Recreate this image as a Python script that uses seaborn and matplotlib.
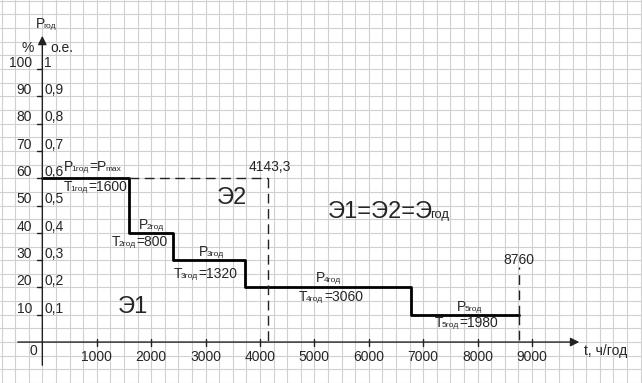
import numpy as np
import pandas as pd
import seaborn as sns
import matplotlib.pyplot as plt
from matplotlib.transforms import offset_copy

# Annual load duration steps
p_levels = [60, 40, 30, 20, 10]          # % of Pmax
durations = [1600, 800, 1320, 3060, 1980]  # h per year
p_names = ['1', '2', '3', '4', '5']
y_ticks_pct = [10, 20, 30, 40, 50, 60, 70, 80, 90, 100]
y_ticks_pu = ['0,1', '0,2', '0,3', '0,4', '0,5', '0,6', '0,7', '0,8', '0,9', '1']
x_ticks = [1000, 2000, 3000, 4000, 5000, 6000, 7000, 8000, 9000]

ends = np.cumsum(durations)
starts = np.concatenate([[0], ends[:-1]])
t_year = ends[-1]
energy = np.sum(np.array(p_levels) * np.array(durations))
t_max = energy / p_levels[0]

df = pd.DataFrame({'t': list(starts) + [t_year],
                   'p': p_levels + [p_levels[-1]]})

sns.set_theme(style='white')
plt.rcParams['font.family'] = 'Liberation Sans'

fig = plt.figure(figsize=(6.42, 3.83), dpi=100)
ax = fig.add_axes([0, 0, 1, 1])
ax.set_xlim(-778, 11024)
ax.set_ylim(-15.0, 125.3)

# graph-paper grid
ax.set_xticks(np.arange(-750, 11250, 250))
ax.set_yticks(np.arange(-15, 130, 5))
ax.tick_params(labelbottom=False, labelleft=False, length=0)
ax.grid(True, color='#d0d0d0', lw=0.8)
ax.set_axisbelow(True)
for s in ax.spines.values():
    s.set_visible(False)

renderer = fig.canvas.get_renderer()


def rich_text(x, y, parts, fs, ha='left', sub_scale=0.6):
    # text with small subscripts, parts = [(string, is_sub), ...]
    widths = []
    for s, sub in parts:
        size = fs * sub_scale if sub else fs
        tmp = ax.text(0, 0, s, fontsize=size)
        widths.append(tmp.get_window_extent(renderer).width)
        tmp.remove()
    # main text runs into the following subscript a bit tighter
    gaps = [(-0.15 * fs if nxt[1] else 0.8) for nxt in parts[1:]] + [0]
    total = sum(widths) + sum(gaps)
    cx = -total / 2 if ha == 'center' else 0
    for (s, sub), w, g in zip(parts, widths, gaps):
        size = fs * sub_scale if sub else fs
        tr = offset_copy(ax.transData, fig=fig, x=cx, y=0, units='dots')
        ax.text(x, y, s, fontsize=size, ha='left', va='baseline', transform=tr)
        cx += w + g


# axes with arrows
ax.annotate('', xy=(0, 113.2), xytext=(0, -9.5),
            arrowprops=dict(arrowstyle='-|>', lw=1, color='#222', mutation_scale=13))
ax.annotate('', xy=(9922, 0), xytext=(-502, 0),
            arrowprops=dict(arrowstyle='-|>', lw=1, color='#222', mutation_scale=13))

fs = 10
for v, lab in zip(y_ticks_pct, y_ticks_pu):
    ax.plot([-97, 0], [v, v], color='#222', lw=1)
    ax.text(-190, v + 0.8, str(v), ha='right', va='baseline', fontsize=fs)
    ax.text(37, v + 0.8, lab, ha='left', va='baseline', fontsize=fs)
for v in x_ticks:
    ax.plot([v, v], [-1.3, 1.3], color='#222', lw=1)
    ax.text(v, -5.5, str(v), ha='center', va='center', fontsize=fs)
ax.text(-171, -3.3, '0', ha='center', va='center', fontsize=fs)
ax.text(9958, -3.3, 't, ч/год', ha='left', va='center', fontsize=fs)
rich_text(-116, 115.0, [('P', False), ('год', True)], fs)
ax.text(-261, 107.7, '%', ha='center', va='center', fontsize=fs)
ax.text(142, 107.7, 'o.e.', ha='left', va='center', fontsize=fs)

# step curve
sns.lineplot(data=df, x='t', y='p', drawstyle='steps-post', color='black',
             lw=2, ax=ax, legend=False)
ax.set_xlabel('')
ax.set_ylabel('')

# equivalent rectangle
dash = (0, (7, 4))
ax.plot([ends[0], t_max], [p_levels[0]] * 2, color='#222', lw=1, ls=dash)
ax.plot([t_max, t_max], [p_levels[0], 0], color='#222', lw=1, ls=dash)
ax.plot([t_year, t_year], [p_levels[-1], 27.6], color='#222', lw=1, ls=dash)
ax.plot([t_year, t_year], [p_levels[-1], 0], color='#222', lw=1, ls=dash)
ax.text(t_max + 43, 64, f'{t_max:.1f}'.replace('.', ','), ha='center', va='center', fontsize=fs)
ax.text(t_year, 30, str(t_year), ha='center', va='center', fontsize=fs)

# step labels (baseline positions)
p_pos = [(399, 62.6), (2000, 41.4), (3103, 31.5), (5254, 21.9), (7853, 11.4)]
t_pos = [(386, 55.4), (1796, 35.2), (2996, 23.4), (5307, 15.1), (7801, 5.5)]
for i, (n, d) in enumerate(zip(p_names, durations)):
    px, py = p_pos[i]
    tx, ty = t_pos[i]
    if i == 0:
        rich_text(px, py, [('P', False), ('1год', True), ('=P', False), ('max', True)], fs)
        rich_text(tx, ty, [('T', False), ('1год', True), ('=' + str(d), False)], fs)
    else:
        rich_text(px, py, [('P', False), (n + 'год', True)], fs, ha='center')
        rich_text(tx, ty, [('T', False), (n + 'год', True), ('=' + str(d), False)], fs,
                  ha='center')

ax.text(3482, 52.6, 'Э2', ha='center', va='center', fontsize=17)
ax.text(1667, 12.9, 'Э1', ha='center', va='center', fontsize=17)
rich_text(5252, 45.3, [('Э1=Э2=Э', False), ('год', True)], 17, sub_scale=0.55)

fig.savefig('out.png', dpi=100)
